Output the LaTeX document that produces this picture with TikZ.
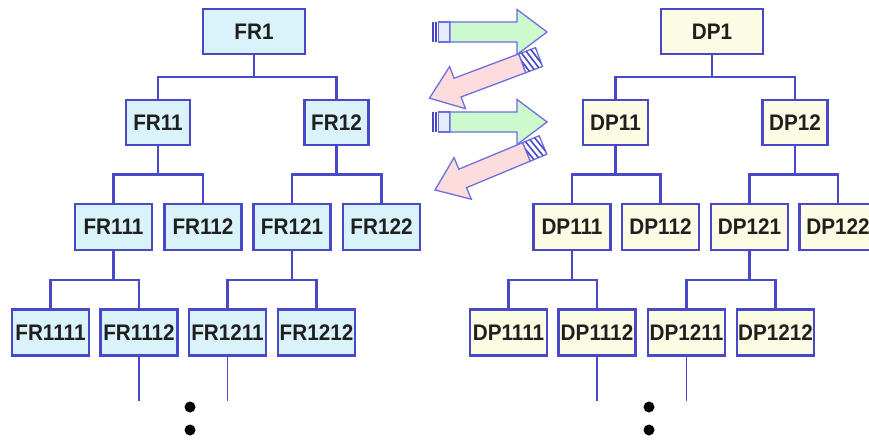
\documentclass[tikz,border=0pt]{standalone}
\usepackage{fontspec}
\setmainfont[FakeStretch=0.92]{Liberation Sans}
\usetikzlibrary{calc}
\definecolor{lineblue}{RGB}{72,72,200}
\definecolor{frfill}{RGB}{218,243,251}
\definecolor{dpfill}{RGB}{252,252,228}
\definecolor{agreen}{RGB}{205,250,205}
\definecolor{apink}{RGB}{252,220,220}
\definecolor{aline}{RGB}{110,110,225}
\definecolor{tailfill}{RGB}{228,236,255}
\newcommand\kidsbus[3]{%
  \path ($(#1.south)!.5!(#1.south|-#2.north)$) coordinate (bus#1);
  \draw[conn] (#1.south) -- (bus#1);
  \draw[conn] (#2.north) |- (bus#1) -| (#3.north);}
\newcommand\greenarrow[2]{%
  \begin{scope}[shift={(#1,#2)}]
    \fill[lineblue] (0,-10) rectangle (1.6,10);
    \fill[lineblue] (2.8,-10) rectangle (4.6,10);
    \draw[aline,line width=1.3pt,fill=tailfill] (6.5,-10) rectangle (18,10);
    \draw[aline,line width=1.3pt,fill=agreen,line join=miter] (18,-10) -- (85,-10) -- (85,-22.5) -- (115,0) -- (85,22.5) -- (85,10) -- (18,10) -- cycle;
  \end{scope}}
\newcommand\pinkarrow[3]{%
  \begin{scope}[shift={(#1,#2)},rotate=#3]
    \draw[aline,line width=1.3pt,fill=white] (0,-10) rectangle (18,10);
    \begin{scope}
      \clip (0,-10) rectangle (18,10);
      \foreach \s in {-6,-1,4,9,14,19}
        \draw[lineblue,line width=1.6pt] (\s,-10) -- (\s+6,10);
    \end{scope}
    \draw[aline,line width=1.3pt,fill=apink,line join=miter] (18,-10) -- (87,-10) -- (87,-22.5) -- (117,0) -- (87,22.5) -- (87,10) -- (18,10) -- cycle;
  \end{scope}}
\begin{document}
\begin{tikzpicture}[x=1pt,y=-1pt,
  box/.style={draw=lineblue,line width=2.2pt,inner sep=0pt,minimum height=45pt,
    font=\fontsize{22.5}{22.5}\selectfont\bfseries,text=black!88},
  fr/.style={box,fill=frfill},
  dp/.style={box,fill=dpfill},
  wa/.style={minimum width=102pt},
  wb/.style={minimum width=64pt},
  wc/.style={minimum width=77pt,minimum height=46pt},
  conn/.style={draw=lineblue,line width=2.2pt},
  tailline/.style={draw=lineblue,line width=1.8pt},
  dot/.style={fill=black}]
\useasboundingbox (0,0) rectangle (869,442);
\clip (0,0) rectangle (869,442);
\fill[white] (0,0) rectangle (869,442);

% FR tree
\node[fr,wa] (fr1) at (254,31.5) {FR1};
\node[fr,wb] (fr11) at (158,122.5) {FR11};
\node[fr,wb] (fr12) at (336.5,122.5) {FR12};
\node[fr,wc] (fr111) at (113.5,227) {FR111};
\node[fr,wc] (fr112) at (203,227) {FR112};
\node[fr,wc] (fr121) at (292,227) {FR121};
\node[fr,wc] (fr122) at (381.5,227) {FR122};
\node[fr,wc] (fr1111) at (50.5,332.5) {FR1111};
\node[fr,wc] (fr1112) at (139,332.5) {FR1112};
\node[fr,wc] (fr1211) at (227.5,332.5) {FR1211};
\node[fr,wc] (fr1212) at (316.5,332.5) {FR1212};
\kidsbus{fr1}{fr11}{fr12}
\kidsbus{fr11}{fr111}{fr112}
\kidsbus{fr12}{fr121}{fr122}
\kidsbus{fr111}{fr1111}{fr1112}
\kidsbus{fr121}{fr1211}{fr1212}
\coordinate (fe1) at (139,401);
\coordinate (fe2) at (227.5,401);
\draw[tailline] (fr1112.south) -- (fe1);
\draw[tailline] (fr1211.south) -- (fe2);
\fill[dot] (190,407) circle (5.5);
\fill[dot] (190,430) circle (5.5);

% DP tree
\node[dp,wa] (dp1) at (712,31.5) {DP1};
\node[dp,minimum width=65pt] (dp11) at (615.5,122.5) {DP11};
\node[dp,minimum width=65pt] (dp12) at (795,122.5) {DP12};
\node[dp,wc] (dp111) at (572,227) {DP111};
\node[dp,wc] (dp112) at (660.5,227) {DP112};
\node[dp,wc] (dp121) at (749.5,227) {DP121};
\node[dp,wc] (dp122) at (838,227) {DP122};
\node[dp,wc] (dp1111) at (508.5,332.5) {DP1111};
\node[dp,wc] (dp1112) at (597,332.5) {DP1112};
\node[dp,wc] (dp1211) at (686.5,332.5) {DP1211};
\node[dp,wc] (dp1212) at (775.5,332.5) {DP1212};
\kidsbus{dp1}{dp11}{dp12}
\kidsbus{dp11}{dp111}{dp112}
\kidsbus{dp12}{dp121}{dp122}
\kidsbus{dp111}{dp1111}{dp1112}
\kidsbus{dp121}{dp1211}{dp1212}
\coordinate (de1) at (597,401);
\coordinate (de2) at (686.5,401);
\draw[tailline] (dp1112.south) -- (de1);
\draw[tailline] (dp1211.south) -- (de2);
\fill[dot] (649,407) circle (5.5);
\fill[dot] (649,430) circle (5.5);

% zigzag arrows
\greenarrow{432}{32}
\pinkarrow{539}{57}{200.6}
\greenarrow{432}{122}
\pinkarrow{543}{145}{202.6}
\end{tikzpicture}
\end{document}
